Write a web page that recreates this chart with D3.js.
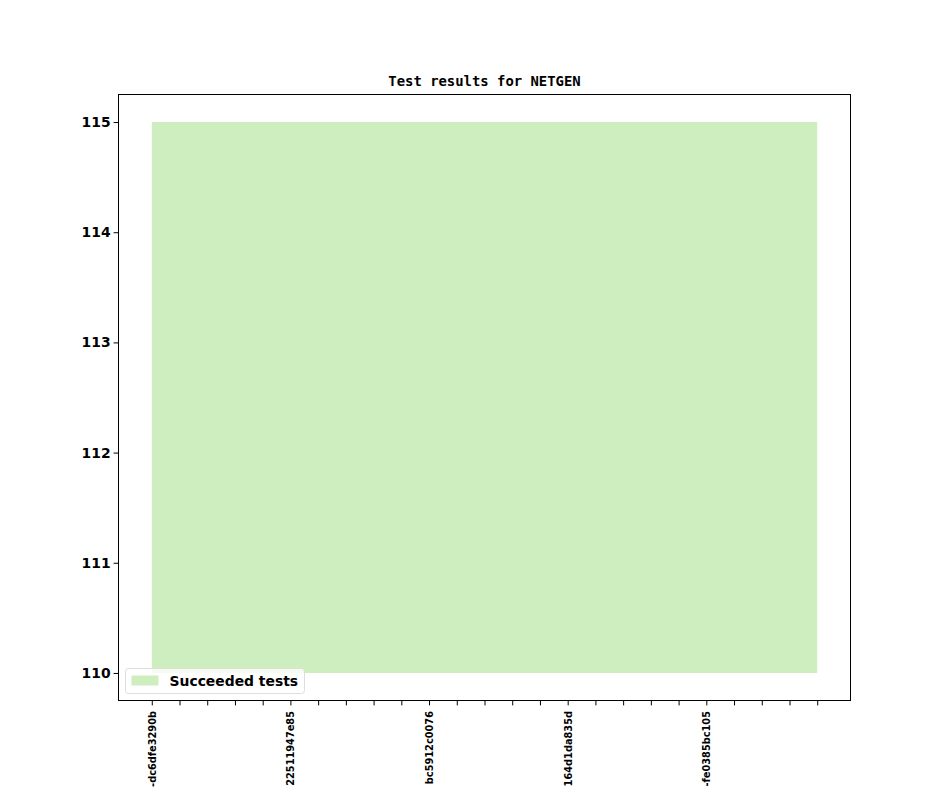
<!DOCTYPE html>
<html>
  <head>
    <meta charset="utf-8">
    <title>Test results for NETGEN</title>
    <style>
      body {
        margin: 0;
        background: #fff;
      }
      svg {
        display: block;
      }
      .axis .domain {
        display: none;
      }
      .axis line {
        stroke: #000;
        stroke-width: 1;
      }
      .axis text {
        fill: #000;
        font-family: "DejaVu Sans", sans-serif;
        font-weight: bold;
      }
      .axis-left text {
        font-size: 13.9px;
      }
      .axis-bottom text {
        font-size: 9.8px;
      }
      .title {
        font-family: "DejaVu Sans Mono", monospace;
        font-weight: bold;
        font-size: 13.9px;
      }
      .legend text {
        font-family: "DejaVu Sans", sans-serif;
        font-weight: bold;
        font-size: 13.9px;
      }
    </style>
  </head>
  <body>
    <div id="chart"></div>
    <script src="https://cdn.jsdelivr.net/npm/d3@7"></script>
    <script>

      // one entry per commit, only every 5th is labelled on the axis
      let commits = [
        "-dc6dfe3290b", "", "", "", "",
        "22511947e85", "", "", "", "",
        "bc5912c0076", "", "", "", "",
        "164d1da835d", "", "", "", "",
        "-fe0385bc105", "", "", "", ""
      ];
      let baseline = [110, 110, 110, 110, 110, 110, 110, 110, 110, 110, 110, 110, 110,
                      110, 110, 110, 110, 110, 110, 110, 110, 110, 110, 110, 110];
      let succeeded = [115, 115, 115, 115, 115, 115, 115, 115, 115, 115, 115, 115, 115,
                       115, 115, 115, 115, 115, 115, 115, 115, 115, 115, 115, 115];
      let yTicks = [110, 111, 112, 113, 114, 115];

      let elWidth = 944;
      let elHeight = 787;

      let svg = d3.select('#chart').append('svg')
        .attr('width', elWidth)
        .attr('height', elHeight);

      let margin = {top: 94.5, right: 93.5, bottom: 86.5, left: 118.5};
      let width = elWidth - margin.left - margin.right;
      let height = elHeight - margin.top - margin.bottom;

      let g = svg.append("g").attr("transform", "translate(" + margin.left + "," + margin.top + ")");

      let n = commits.length;
      let padX = (n - 1) * 0.05;
      let x = d3.scaleLinear()
        .domain([-padX, n - 1 + padX])
        .range([0, width]);

      let lo = d3.min(baseline), hi = d3.max(succeeded);
      let padY = (hi - lo) * 0.05;
      let y = d3.scaleLinear()
        .domain([lo - padY, hi + padY])
        .range([height, 0]);

      let data = commits.map((c, i) => ({i: i, y0: baseline[i], y1: succeeded[i]}));

      let area = d3.area()
        .x(d => x(d.i))
        .y0(d => y(d.y0))
        .y1(d => y(d.y1));

      g.append("path")
        .datum(data)
        .attr("fill", "#cfeebf")
        .attr("d", area);

      g.append("g")
        .attr('class', 'axis axis-left')
        .call(d3.axisLeft(y).tickValues(yTicks).tickFormat(d3.format('d')).tickSize(4.9).tickPadding(3));

      let xAxis = g.append("g")
        .attr('class', 'axis axis-bottom')
        .attr("transform", "translate(0," + height + ")")
        .call(d3.axisBottom(x).tickValues(d3.range(n)).tickFormat(i => commits[i]).tickSize(4.9).tickPadding(3.5));

      xAxis.selectAll("text")
        .attr("transform", "rotate(-90)")
        .attr("x", -10.5)
        .attr("y", 0)
        .attr("dy", "0.35em")
        .style("text-anchor", "end");

      g.append("rect")
        .attr("width", width)
        .attr("height", height)
        .attr("fill", "none")
        .attr("stroke", "#000")
        .attr("stroke-width", 1);

      svg.append("text")
        .attr("class", "title")
        .attr("x", margin.left + width / 2)
        .attr("y", 86)
        .attr("text-anchor", "middle")
        .text("Test results for NETGEN");

      let legend = g.append("g")
        .attr("class", "legend")
        .attr("transform", "translate(7," + (height - 32) + ")");

      legend.append("rect")
        .attr("width", 179)
        .attr("height", 25)
        .attr("rx", 3)
        .attr("fill", "#fff")
        .attr("fill-opacity", 0.8)
        .attr("stroke", "#ddd");

      legend.append("rect")
        .attr("x", 6)
        .attr("y", 7)
        .attr("width", 27)
        .attr("height", 10)
        .attr("fill", "#cfeebf");

      legend.append("text")
        .attr("x", 44)
        .attr("y", 17)
        .text("Succeeded tests");

    </script>
  </body>
</html>
